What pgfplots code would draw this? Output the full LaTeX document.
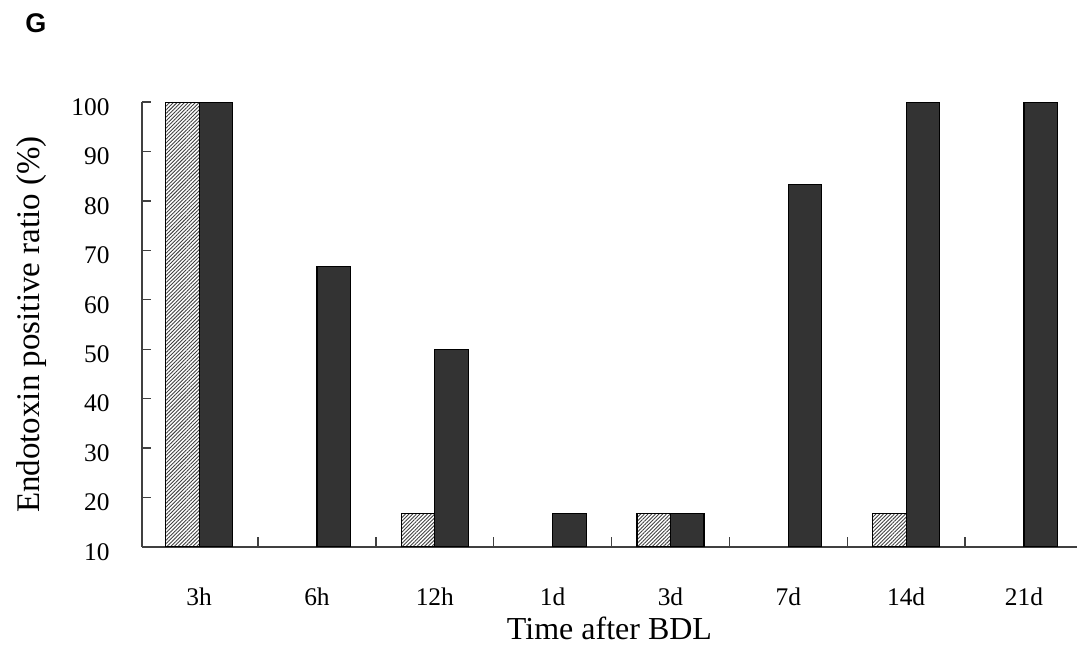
\documentclass[border=0pt]{standalone}
\usepackage{fontspec}
\setmainfont{Liberation Serif}
\newfontfamily\gfont{Liberation Sans}
\usepackage{pgfplots}
\pgfplotsset{compat=1.18}
\usetikzlibrary{patterns.meta}
\definecolor{darkbar}{HTML}{333333}
\definecolor{axgray}{HTML}{404040}
\begin{document}
\begin{tikzpicture}
\useasboundingbox (0,0) rectangle (538.5pt,325.5pt);
\node[anchor=base west, inner sep=0pt, font=\gfont\bfseries\fontsize{13.5}{15}\selectfont] at (12.5pt,309pt) {G};
\begin{axis}[
  at={(71pt,52pt)}, anchor=south west,
  scale only axis, width=467.5pt, height=222.5pt,
  xmin=-0.485, xmax=7.45, ymin=10, ymax=100,
  axis x line=bottom, axis y line=left,
  axis line style={-, draw=axgray, line width=0.75pt},
  ybar=0pt, bar width=16.75pt,
  xtick={0,...,7}, xticklabels={3h,6h,12h,1d,3d,7d,14d,21d},
  ytick={10,20,...,100},
  minor xtick={0.5,1.5,...,6.5}, minor ytick={10,20,...,100},
  major tick length=0pt, minor tick length=4.75pt,
  tick align=inside,
  every minor tick/.append style={line width=0.7pt, draw=axgray},
  /pgf/number format/assume math mode=true,
  tick label style={font=\fontsize{12.7}{14}\selectfont},
  xticklabel style={anchor=base, inner sep=0pt, yshift=-29.5pt},
  yticklabel style={anchor=east, inner sep=0pt, xshift=-16pt, yshift=-2.5pt},
  xlabel={Time after BDL}, ylabel={Endotoxin positive ratio (\%)},
  xlabel style={at={(axis description cs:0.5,-0.209)}, anchor=base, inner sep=0pt, font=\fontsize{16}{18}\selectfont},
  ylabel style={at={(axis description cs:-0.110,0.5)}, anchor=base, inner sep=0pt, font=\fontsize{16.5}{18}\selectfont},
]
\addplot[draw=black, line width=0.6pt, pattern={Lines[angle=45,distance=1.3pt,line width=0.45pt]}, pattern color=black!75]
  coordinates {(0,100) (2,16.7) (4,16.7) (6,16.7)};
\addplot[draw=black, line width=0.6pt, fill=darkbar]
  coordinates {(0,100) (1,66.7) (2,50) (3,16.7) (4,16.7) (5,83.3) (6,100) (7,100)};
\end{axis}
\end{tikzpicture}
\end{document}
